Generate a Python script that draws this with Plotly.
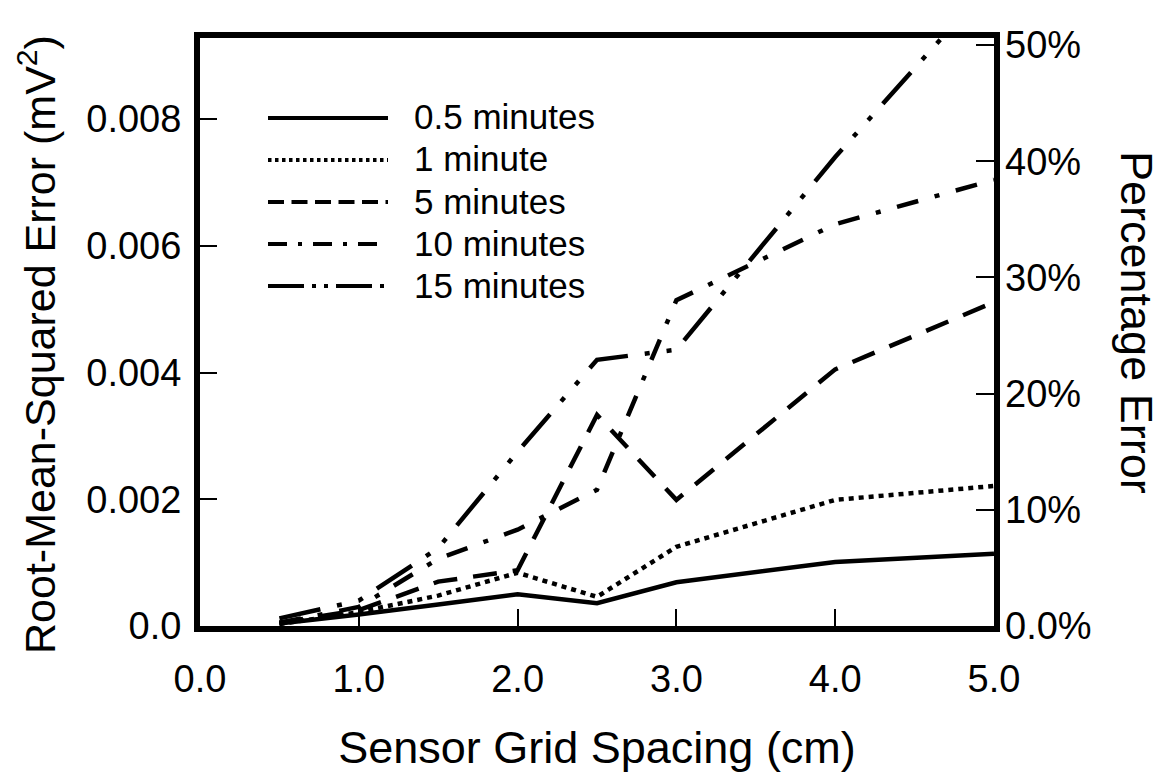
import plotly.graph_objects as go

# ---------------- data ----------------
spacing_cm = [0.5, 1.0, 1.5, 2.0, 2.5, 3.0, 4.0, 5.0]
rmse_05min = [0.00004, 0.00018, 0.00034, 0.00050, 0.00036, 0.00069, 0.00101, 0.00114]
rmse_1min = [0.00003, 0.00022, 0.00048, 0.00084, 0.00046, 0.00125, 0.00199, 0.00221]
rmse_5min = [0.00005, 0.00025, 0.00070, 0.00088, 0.00333, 0.00199, 0.00405, 0.00511]
rmse_10min = [0.00005, 0.00030, 0.00106, 0.00152, 0.00215, 0.00514, 0.00634, 0.00704]
rmse_15min = [0.00012, 0.00040, 0.00123, 0.00275, 0.00420, 0.00436, 0.00740, 0.01020]

series_names = ["0.5 minutes", "1 minute", "5 minutes", "10 minutes", "15 minutes"]

x_tickvals = [0, 1, 2, 3, 4, 5]
x_ticktext = ["0.0", "1.0", "2.0", "3.0", "4.0", "5.0"]
y_tickvals = [0, 0.002, 0.004, 0.006, 0.008]
y_ticktext = ["0.0", "0.002", "0.004", "0.006", "0.008"]
y2_tickvals = [0, 10, 20, 30, 40, 50]
y2_ticktext = ["0.0%", "10%", "20%", "30%", "40%", "50%"]

# ---------------- styles ----------------
FONT = "Liberation Sans, Arial, Helvetica, sans-serif"
OFF = 8  # page body margin in the browser
W, H = 1161 - OFF, 775 - OFF
PL, PR, PT, PB = 200 - OFF, 994 - OFF, 38 - OFF, 626 - OFF  # plot area in figure px
LW = 4.5
plot_dashes = ["solid", "5px,5px", "24px,16px", "22px,17px,5px,17px",
               "42px,17px,5px,17px,5px,17px"]
legend_dashes = ["solid", "3.5px,3.5px", "16px,7.5px", "19px,11px,4px,11px",
                 "36px,8px,4px,8px,4px,8px"]

all_series = [rmse_05min, rmse_1min, rmse_5min, rmse_10min, rmse_15min]

fig = go.Figure()
for name, vals, dash in zip(series_names, all_series, plot_dashes):
    fig.add_trace(go.Scatter(
        x=spacing_cm, y=vals, mode="lines", name=name,
        line=dict(color="black", width=LW, dash=dash),
        showlegend=False, hoverinfo="x+y",
    ))

# invisible trace to activate right axis
fig.add_trace(go.Scatter(x=[0], y=[0], yaxis="y2", mode="lines",
                         line=dict(width=0), showlegend=False, hoverinfo="skip"))

plot_h = PB - PT
y_top = plot_h / ((626 - 119) / 4) * 0.002
y2_top = plot_h / ((626 - 45) / 5) * 10

fig.update_layout(
    width=W, height=H,
    margin=dict(l=PL, r=W - PR, t=PT, b=H - PB, pad=0, autoexpand=False),
    paper_bgcolor="white", plot_bgcolor="white",
    font=dict(family=FONT, color="black", size=38),
    showlegend=False,
    xaxis=dict(
        range=[0, 5], tickvals=x_tickvals, ticktext=x_ticktext,
        ticks="inside", ticklen=17, tickwidth=2, tickcolor="black",
        showline=True, linewidth=6, linecolor="black", mirror=True,
        showgrid=False, zeroline=False, automargin=False,
        tickfont=dict(size=38), ticklabelstandoff=14,
        title=dict(text="Sensor Grid Spacing (cm)", font=dict(size=45), standoff=35),
    ),
    yaxis=dict(
        range=[0, y_top], tickvals=y_tickvals, ticktext=y_ticktext,
        ticks="inside", ticklen=17, tickwidth=2, tickcolor="black",
        showline=True, linewidth=6, linecolor="black", mirror=True,
        showgrid=False, zeroline=False, automargin=False,
        tickfont=dict(size=38), ticklabelstandoff=5,
    ),
    yaxis2=dict(
        overlaying="y", side="right", range=[0, y2_top],
        tickvals=y2_tickvals, ticktext=y2_ticktext,
        ticks="inside", ticklen=18, tickwidth=2, tickcolor="black",
        showline=False, showgrid=False, zeroline=False, automargin=False,
        tickfont=dict(size=38), ticklabelstandoff=10,
    ),
)

def px_x(p):
    """reference-image pixel -> paper x"""
    return (p - OFF - PL) / (PR - PL)

def px_y(p):
    """reference-image pixel -> paper y"""
    return (PB - (p - OFF)) / plot_h

# left axis title
fig.add_annotation(
    text="Root-Mean-Squared Error (mV<sup>2</sup>)", textangle=-90, showarrow=False,
    xref="paper", yref="paper", x=px_x(37), y=px_y(345),
    xanchor="center", yanchor="middle", font=dict(size=43),
)

# right axis title (reads top-to-bottom)
fig.add_annotation(
    text="Percentage Error", textangle=90, showarrow=False,
    xref="paper", yref="paper", x=px_x(1137), y=px_y(322),
    xanchor="center", yanchor="middle", font=dict(size=45),
)

# legend drawn manually (long line samples like the original)
legend_rows = [118, 160, 202, 244, 286]
for name, dash, ry in zip(series_names, legend_dashes, legend_rows):
    fig.add_shape(type="line", xref="paper", yref="paper",
                  x0=px_x(268), x1=px_x(388), y0=px_y(ry), y1=px_y(ry),
                  line=dict(color="black", width=LW - 0.5, dash=dash))
    fig.add_annotation(text=name, showarrow=False, xref="paper", yref="paper",
                       x=px_x(412), y=px_y(ry - 1), xanchor="left", yanchor="middle",
                       font=dict(size=35))

fig.write_html("out.html")
